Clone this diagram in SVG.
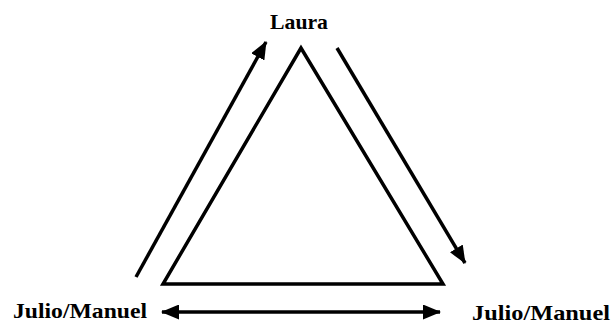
<svg xmlns="http://www.w3.org/2000/svg" width="615" height="324" viewBox="0 0 615 324">
<style>
.lbl{font-family:"Liberation Serif","Times New Roman",serif;font-weight:bold;font-size:21px;fill:#000}
.ln{stroke:#000;stroke-width:3.5;fill:none}
</style>
<defs>
<marker id="ah" viewBox="0 0 18 15" refX="17" refY="7.5" markerWidth="18" markerHeight="15" orient="auto-start-reverse" markerUnits="userSpaceOnUse">
<path d="M0,0 L18,7.5 L0,15 z" fill="#000"/>
</marker>
</defs>
<rect width="615" height="324" fill="#fff"/>
<g id="triangle">
<polygon class="ln" points="301,48 163,284 443,284" stroke-linejoin="miter"/>
</g>
<g id="connectors">
<line class="ln" x1="136" y1="277" x2="266" y2="42" marker-end="url(#ah)"/>
<line class="ln" x1="337" y1="48" x2="465" y2="263" marker-end="url(#ah)"/>
<line class="ln" x1="162" y1="312" x2="440" y2="312" marker-start="url(#ah)" marker-end="url(#ah)"/>
</g>
<g id="laura"><text class="lbl" x="270" y="29" textLength="58" lengthAdjust="spacingAndGlyphs">Laura</text></g>
<g id="julio-left"><text class="lbl" x="13" y="318" textLength="134" lengthAdjust="spacingAndGlyphs">Julio/Manuel</text></g>
<g id="julio-right"><text class="lbl" x="472" y="320" textLength="138" lengthAdjust="spacingAndGlyphs">Julio/Manuel</text></g>
</svg>
